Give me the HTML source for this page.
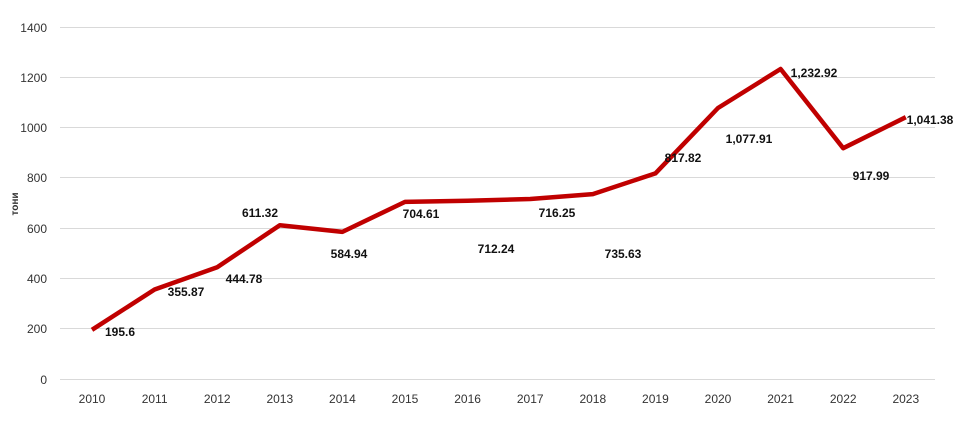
<!DOCTYPE html>
<html><head><meta charset="utf-8"><style>
body{margin:0;background:#fff;}
svg text{font-family:"Liberation Sans",sans-serif;}
</style></head><body>
<svg width="960" height="423" xmlns="http://www.w3.org/2000/svg">
<g stroke="#d9d9d9" stroke-width="1">
<line x1="60" x2="935" y1="27.5" y2="27.5"/><line x1="60" x2="935" y1="77.5" y2="77.5"/>
<line x1="60" x2="935" y1="127.5" y2="127.5"/><line x1="60" x2="935" y1="177.5" y2="177.5"/>
<line x1="60" x2="935" y1="228.5" y2="228.5"/><line x1="60" x2="935" y1="278.5" y2="278.5"/>
<line x1="60" x2="935" y1="328.5" y2="328.5"/><line x1="60" x2="935" y1="379.5" y2="379.5"/>
</g>
<g font-size="12" fill="#333" text-anchor="end">
<text x="47" y="32">1400</text><text x="47" y="82">1200</text><text x="47" y="132">1000</text>
<text x="47" y="182">800</text><text x="47" y="233">600</text><text x="47" y="283">400</text>
<text x="47" y="333">200</text><text x="47" y="384">0</text>
</g>
<text x="0" y="0" font-size="10" fill="#333" font-weight="bold" text-anchor="middle" transform="translate(18,204) rotate(-90)">тони</text>
<g font-size="12" fill="#333" text-anchor="middle">
<text x="92" y="403">2010</text><text x="154.6" y="403">2011</text><text x="217.2" y="403">2012</text>
<text x="279.8" y="403">2013</text><text x="342.4" y="403">2014</text><text x="405" y="403">2015</text>
<text x="467.6" y="403">2016</text><text x="530.2" y="403">2017</text><text x="592.8" y="403">2018</text>
<text x="655.4" y="403">2019</text><text x="718" y="403">2020</text><text x="780.6" y="403">2021</text>
<text x="843.2" y="403">2022</text><text x="905.8" y="403">2023</text>
</g>
<polyline fill="none" stroke="#c00000" stroke-width="4.5" stroke-linejoin="round"
points="92,329.8 154.6,289.5 217.2,267.2 279.8,225.3 342.4,231.9 405,201.9 467.6,200.8 530.2,199.0 592.8,194.1 655.4,173.4 718,108.0 780.6,69.0 843.2,148.2 905.8,117.2"/>
<g font-size="12" font-weight="bold" fill="#111" text-anchor="middle">
<text x="120" y="336">195.6</text><text x="186" y="296">355.87</text><text x="244" y="283">444.78</text>
<text x="260" y="217">611.32</text><text x="349" y="258">584.94</text><text x="421" y="218">704.61</text>
<text x="496" y="253">712.24</text><text x="557" y="217">716.25</text><text x="623" y="258">735.63</text>
<text x="683" y="162">817.82</text><text x="749" y="143">1,077.91</text><text x="814" y="77">1,232.92</text>
<text x="871" y="180">917.99</text><text x="930" y="124">1,041.38</text>
</g>
</svg>
</body></html>
